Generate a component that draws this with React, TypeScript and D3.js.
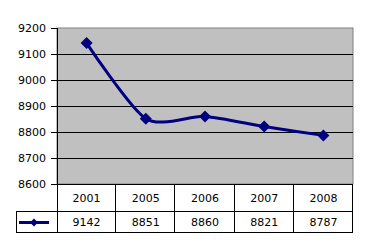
import React from "react";
import * as d3 from "d3";

const categories = ["2001", "2005", "2006", "2007", "2008"];
const values = [9142, 8851, 8860, 8821, 8787];
const yTicks = [8600, 8700, 8800, 8900, 9000, 9100, 9200];

export default function App() {
  const W = 369, H = 248;
  const left = 57, right = 353, top = 28, bottom = 184;
  const row1 = 211, row2 = 232, legLeft = 16;
  const x = d3.scaleBand<string>().domain(categories).range([left, right]);
  const y = d3.scaleLinear().domain([8600, 9200]).range([bottom, top]);
  const pts: [number, number][] = values.map((v, i) => [x(categories[i])! + x.bandwidth() / 2, y(v)]);
  const line = d3.line().curve(d3.curveCardinal.tension(0.25))(pts) || "";
  const diamond = (cx: number, cy: number, r = 6) => `M${cx},${cy - r}L${cx + r},${cy}L${cx},${cy + r}L${cx - r},${cy}Z`;
  const font = "DejaVu Sans, Verdana, sans-serif";
  return (
    <svg width={W} height={H} style={{ position: "absolute", left: 0, top: 0 }}>
      <rect x={0} y={0} width={W} height={H} fill="#fff" />
      <rect x={left} y={top} width={right - left} height={bottom - top} fill="#C0C0C0" stroke="#808080" strokeWidth={1} />
      {yTicks.map((t) => (
        <g key={t}>
          {t !== 8600 && t !== 9200 && (
            <line x1={left} x2={right} y1={Math.round(y(t)) + 0.5} y2={Math.round(y(t)) + 0.5} stroke="#000" strokeWidth={1} />
          )}
          <line x1={51} x2={left} y1={Math.round(y(t)) + 0.5} y2={Math.round(y(t)) + 0.5} stroke="#000" />
          <text x={46} y={y(t)} dy="0.35em" textAnchor="end" fontFamily={font} fontSize={11} fill="#000">{t}</text>
        </g>
      ))}
      <line x1={left + 0.5} x2={left + 0.5} y1={top} y2={row2} stroke="#000" />
      {/* table */}
      <line x1={left} x2={right} y1={bottom + 0.5} y2={bottom + 0.5} stroke="#000" />
      <line x1={legLeft} x2={right} y1={row1 + 0.5} y2={row1 + 0.5} stroke="#000" />
      <line x1={legLeft} x2={right} y1={row2 + 0.5} y2={row2 + 0.5} stroke="#000" />
      <line x1={legLeft + 0.5} x2={legLeft + 0.5} y1={row1} y2={row2 + 1} stroke="#000" />
      {categories.map((c, i) => (
        <g key={c}>
          <line x1={Math.round(x(c)! + x.bandwidth()) - 0.5} x2={Math.round(x(c)! + x.bandwidth()) - 0.5} y1={bottom} y2={row2 + 1} stroke="#000" />
          <text x={x(c)! + x.bandwidth() / 2} y={(bottom + row1) / 2 + 1} dy="0.35em" textAnchor="middle" fontFamily={font} fontSize={11}>{c}</text>
          <text x={x(c)! + x.bandwidth() / 2} y={(row1 + row2) / 2 + 1} dy="0.35em" textAnchor="middle" fontFamily={font} fontSize={11}>{values[i]}</text>
        </g>
      ))}
      <line x1={19} x2={49} y1={(row1 + row2) / 2 + 1} y2={(row1 + row2) / 2 + 1} stroke="#000080" strokeWidth={3} />
      <path d={diamond(34, (row1 + row2) / 2 + 1, 4)} fill="#000080" />
      <path d={line} fill="none" stroke="#000080" strokeWidth={3} />
      {pts.map((p, i) => <path key={i} d={diamond(p[0], p[1])} fill="#000080" />)}
    </svg>
  );
}
